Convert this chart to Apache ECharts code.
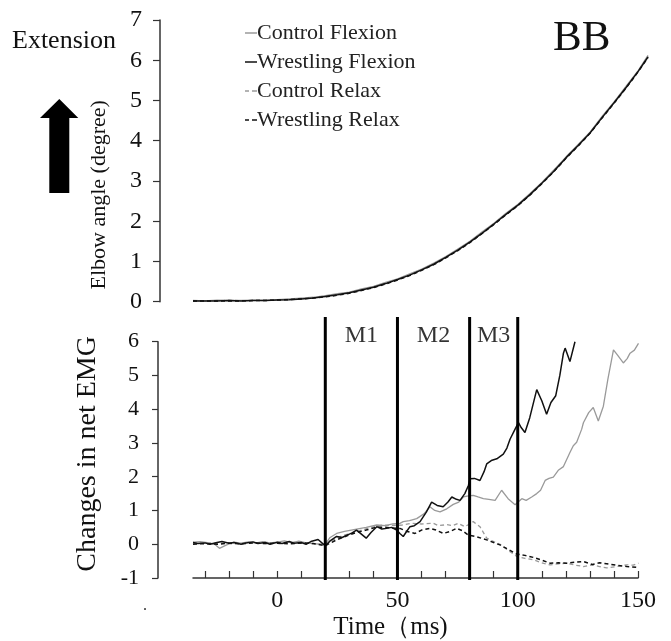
<!DOCTYPE html>
<html><head><meta charset="utf-8">
<script src="https://cdn.jsdelivr.net/npm/echarts@6/dist/echarts.min.js"></script>
<style>html,body{margin:0;padding:0;background:#fff}#c{width:671px;height:641px}</style>
</head><body><div id="c"></div>
<script>
// ---------- data ----------
const seriesNames = ['Control Flexion', 'Wrestling Flexion', 'Control Relax', 'Wrestling Relax'];
const phaseLines = [20, 50, 80, 100];
const phaseLabels = [['M1', 35], ['M2', 65], ['M3', 90]];
const xTickValues = [-30, -20, -10, 0, 10, 20, 30, 40, 50, 60, 70, 80, 90, 100, 110, 120, 130, 140, 150];
const xLabelValues = [0, 50, 100, 150];

// elbow angle (degree), top panel
const angleTime = [-35,-30,-25,-20,-15,-10,-5,0,5,10,15,20,25,30,35,40,45,50,55,60,65,70,75,80,85,90,95,100,105,110,115,120,125,130,135,140,145,150,154];
const angleWrestFlex = [0.02,0.02,0.02,0.03,0.02,0.03,0.03,0.04,0.05,0.07,0.09,0.13,0.17,0.22,0.29,0.36,0.45,0.55,0.66,0.79,0.93,1.10,1.28,1.48,1.70,1.93,2.17,2.40,2.66,2.95,3.25,3.58,3.88,4.20,4.58,4.95,5.33,5.73,6.08];
const angleCtrlFlex  = [0.03,0.02,0.04,0.03,0.03,0.04,0.03,0.05,0.07,0.09,0.11,0.15,0.20,0.24,0.32,0.38,0.48,0.57,0.69,0.81,0.96,1.12,1.31,1.50,1.73,1.95,2.20,2.42,2.69,2.97,3.28,3.60,3.91,4.22,4.61,4.97,5.36,5.75,6.12];
const angleCtrlRelax = [0.02,0.03,0.02,0.04,0.02,0.03,0.04,0.04,0.06,0.08,0.10,0.14,0.18,0.23,0.30,0.37,0.46,0.56,0.67,0.80,0.94,1.11,1.29,1.49,1.71,1.94,2.18,2.41,2.67,2.96,3.26,3.59,3.89,4.21,4.59,4.96,5.34,5.74,6.10];
const angleWrestRelax= [0.02,0.02,0.02,0.02,0.02,0.03,0.03,0.04,0.05,0.07,0.09,0.12,0.16,0.21,0.28,0.35,0.44,0.54,0.65,0.78,0.92,1.09,1.27,1.47,1.69,1.92,2.16,2.39,2.65,2.94,3.24,3.57,3.87,4.19,4.57,4.94,5.32,5.72,6.07];

// changes in net EMG, bottom panel: [time ms, value]
const emgWrestFlex = [[-35,0.05],[-33,0.02],[-30,0.04],[-28,0.0],[-25,0.05],[-23,0.08],[-20,0.03],[-18,0.05],[-15,0.0],[-13,0.04],[-10,0.07],[-8,0.02],[-5,0.05],[-3,0.0],[0,0.06],[2,0.02],[5,0.08],[7,0.03],[10,0.05],[12,0.0],[14,0.08],[17,0.14],[20,-0.05],[22,0.1],[24.7,0.23],[27,0.2],[29,0.27],[31,0.33],[33,0.42],[35,0.3],[37,0.18],[39,0.35],[41.4,0.52],[43.5,0.45],[45.5,0.47],[47.5,0.5],[49.7,0.42],[51,0.32],[52.4,0.23],[54,0.4],[55.2,0.52],[57,0.55],[59.4,0.67],[62,0.95],[64.2,1.25],[66.5,1.15],[69,1.11],[71,1.25],[72.6,1.40],[74.5,1.33],[76,1.30],[78,1.5],[79.5,1.74],[80.2,1.94],[82,1.95],[84.3,1.89],[86,2.15],[87.1,2.38],[89,2.48],[91.3,2.53],[94,2.67],[95.5,2.85],[96.8,3.11],[98.9,3.41],[100.3,3.60],[101.5,3.45],[103,3.31],[105,3.75],[107.9,4.58],[110,4.25],[112,3.85],[113.8,4.2],[115.8,4.4],[117.5,5.0],[119,5.66],[119.7,5.81],[121.7,5.41],[123.8,6.0]];
const emgCtrlFlex = [[-35,0.06],[-32,0.08],[-29,0.05],[-26,0.0],[-24,-0.12],[-21,-0.02],[-18,0.06],[-15,0.03],[-12,0.07],[-9,0.03],[-6,0.08],[-3,0.04],[0,0.06],[3,0.1],[6,0.05],[9,0.09],[12,0.04],[15,0.02],[18,0.0],[20,0.0],[22,0.2],[24.7,0.32],[28,0.38],[33,0.45],[37,0.5],[41.4,0.57],[45,0.55],[48,0.6],[51,0.62],[52.4,0.67],[55,0.7],[58,0.76],[61,0.9],[63.5,1.11],[65.5,1.0],[67.7,0.96],[70.5,1.05],[73.2,1.18],[75.5,1.25],[77.4,1.40],[79.5,1.43],[81.5,1.45],[83.5,1.4],[85.7,1.35],[88,1.33],[90.6,1.30],[93.3,1.60],[96,1.35],[98.9,1.17],[101.7,1.35],[103.5,1.3],[105.8,1.40],[107.9,1.50],[109.5,1.6],[111.4,1.89],[113,1.95],[114.8,1.99],[117,2.2],[119,2.3],[121.7,2.72],[123.1,2.92],[124.5,3.02],[126.6,3.41],[127.3,3.60],[129.5,3.9],[131.4,4.05],[133.5,3.65],[135.6,4.09],[137.5,4.9],[139.8,5.76],[141.5,5.6],[143.9,5.37],[145.5,5.5],[146.7,5.66],[148.5,5.75],[150.2,5.95]];
const emgCtrlRelax = [[-35,0.03],[-30,0.05],[-25,0.02],[-20,0.04],[-15,0.03],[-10,0.06],[-5,0.02],[0,0.05],[5,0.04],[10,0.03],[15,0.02],[20,-0.02],[23,0.12],[27,0.25],[33,0.37],[38,0.48],[44,0.57],[48,0.55],[52,0.57],[56,0.62],[60,0.6],[64.9,0.62],[67,0.55],[70.5,0.58],[73,0.55],[75.3,0.62],[78,0.52],[80,0.6],[81.5,0.67],[84.3,0.52],[87.1,0.18],[90,0.08],[92.6,0.0],[96,-0.18],[99.6,-0.36],[103,-0.42],[106.5,-0.46],[110,-0.55],[113.4,-0.61],[117,-0.58],[120.4,-0.56],[124,-0.62],[127.3,-0.66],[131.4,-0.61],[134,-0.66],[137,-0.70],[141,-0.66],[145.3,-0.61],[148,-0.62],[150.2,-0.56]];
const emgWrestRelax = [[-35,0.0],[-30,0.02],[-25,0.0],[-20,0.03],[-15,0.01],[-10,0.04],[-5,0.02],[0,0.03],[5,0.01],[10,0.04],[15,0.02],[20,-0.04],[24.7,0.13],[29,0.25],[33,0.35],[37,0.42],[41,0.5],[45,0.5],[49.7,0.47],[51,0.47],[54,0.38],[57.3,0.32],[60,0.42],[63.5,0.47],[66,0.42],[69.1,0.32],[72,0.38],[74.6,0.47],[77,0.4],[79.5,0.27],[83,0.22],[87.1,0.13],[90,0.05],[92.6,-0.02],[96,-0.15],[99.6,-0.29],[103,-0.33],[106.5,-0.39],[110,-0.47],[113.4,-0.56],[117,-0.55],[120.4,-0.56],[124,-0.53],[127.3,-0.51],[131,-0.6],[134,-0.55],[137,-0.58],[141,-0.62],[145.3,-0.66],[150.2,-0.69]];

// ---------- chart ----------
const FONT = 'Liberation Serif';
const GREY = '#9a9a9a', BLACK = '#111';
const styles = [
  {color: GREY, type: 'solid', width: 1.3},
  {color: BLACK, type: 'solid', width: 1.5},
  {color: GREY, type: [4, 3], width: 1.3},
  {color: BLACK, type: [4, 3], width: 1.5}
];
const SOLID_ICON = 'path://M0,0h12v1.5h-12z';
const DASH_ICON = 'path://M0,0h4v1.5h-4z M7,0h4v1.5h-4z M11,0h1v1.5h-1z';
const legendIcons = [SOLID_ICON, SOLID_ICON, DASH_ICON, DASH_ICON];
const angleData = [angleCtrlFlex, angleWrestFlex, angleCtrlRelax, angleWrestRelax];
const emgData = [emgCtrlFlex, emgWrestFlex, emgCtrlRelax, emgWrestRelax];

const series = [];
seriesNames.forEach((n, i) => {
  series.push({
    name: n, type: 'line', xAxisIndex: 0, yAxisIndex: 0, symbol: 'none', z: 3 + (i % 2),
    lineStyle: styles[i], itemStyle: {color: styles[i].color},
    data: angleTime.map((t, k) => [t, angleData[i][k]])
  });
});
seriesNames.forEach((n, i) => {
  series.push({
    name: n, type: 'line', xAxisIndex: 1, yAxisIndex: 1, symbol: 'none', z: 3 + (i % 2),
    lineStyle: styles[i], itemStyle: {color: styles[i].color},
    data: emgData[i]
  });
});
phaseLines.forEach(t => {
  series.push({
    type: 'line', xAxisIndex: 2, yAxisIndex: 2, symbol: 'none', silent: true, z: 6,
    lineStyle: {color: '#000', width: 3}, data: [[t, 0], [t, 1]]
  });
});
series.push({
  type: 'scatter', xAxisIndex: 2, yAxisIndex: 2, symbolSize: 0, silent: true,
  label: {show: true, position: 'inside', formatter: p => p.data[2], fontFamily: FONT, fontSize: 24, color: '#000'},
  data: phaseLabels.map(p => [p[1], 0.93, p[0]])
});

const option = {
  animation: false,
  backgroundColor: '#fff',
  textStyle: {fontFamily: FONT},
  legend: {
    data: seriesNames.map((n, i) => ({name: n, icon: legendIcons[i]})),
    orient: 'vertical', left: 240, top: 17,
    itemWidth: 12, itemHeight: 1.5, itemGap: 7, symbolKeepAspect: false,
    textStyle: {fontFamily: FONT, fontSize: 22, color: '#222', lineHeight: 22, padding: [0, 0, 0, -5]}
  },
  grid: [
    {left: 193, right: 23, top: 20, bottom: 339.3},
    {left: 193, right: 33, top: 341.7, bottom: 61},
    {left: 193, right: 33, top: 317, bottom: 61}
  ],
  xAxis: [
    {type: 'value', gridIndex: 0, min: -35, max: 154, show: false},
    {type: 'value', gridIndex: 1, min: -35, max: 150,
     name: 'Time（ms)', nameLocation: 'middle', nameGap: 37,
     nameTextStyle: {fontFamily: FONT, fontSize: 25, color: '#111', padding: [0, 50, 0, 0]},
     axisLine: {onZero: false, lineStyle: {color: '#333', width: 1.5}},
     axisTick: {inside: true, length: 7, customValues: xTickValues, lineStyle: {color: '#333', width: 1.2}},
     axisLabel: {customValues: xLabelValues, margin: 11, fontFamily: FONT, fontSize: 24, color: '#111'},
     splitLine: {show: false}},
    {type: 'value', gridIndex: 2, min: -35, max: 150, show: false}
  ],
  yAxis: [
    {type: 'value', gridIndex: 0, min: 0, max: 7, interval: 1, offset: 33,
     name: 'Elbow angle (degree)', nameLocation: 'middle', nameGap: 50,
     nameTextStyle: {fontFamily: FONT, fontSize: 22, color: '#111', padding: [0, 68, 0, 0]},
     axisLine: {show: true, onZero: false, lineStyle: {color: '#333', width: 1.5}},
     axisTick: {show: true, length: 7, lineStyle: {color: '#333', width: 1.2}},
     axisLabel: {margin: 18, fontFamily: FONT, fontSize: 24, color: '#111'},
     splitLine: {show: false}},
    {type: 'value', gridIndex: 1, min: -1, max: 6, interval: 1, offset: 35,
     name: 'Changes in net EMG', nameLocation: 'middle', nameGap: 56,
     nameTextStyle: {fontFamily: FONT, fontSize: 28, color: '#111', padding: [0, 0, 0, 12]},
     axisLine: {show: true, onZero: false, lineStyle: {color: '#333', width: 1.5}},
     axisTick: {show: true, length: 6, lineStyle: {color: '#333', width: 1.2}},
     axisLabel: {margin: 19, fontFamily: FONT, fontSize: 22, color: '#111'},
     splitLine: {show: false}},
    {type: 'value', gridIndex: 2, min: 0, max: 1, show: false}
  ],
  graphic: [
    {type: 'text', left: 12, top: 28, style: {text: 'Extension', font: '26px "Liberation Serif"', fill: '#111'}},
    {type: 'text', left: 553, top: 17, style: {text: 'BB', font: '43px "Liberation Serif"', fill: '#111'}},
    {type: 'polygon', shape: {points: [[40, 118], [59.3, 99], [78.3, 118], [69.3, 118], [69.3, 193], [49.3, 193], [49.3, 118]]}, style: {fill: '#000'}},
    {type: 'text', left: 143, top: 598, style: {text: '.', font: '16px "Liberation Serif"', fill: '#333'}}
  ],
  series: series
};
echarts.init(document.getElementById('c'), null, {renderer: 'canvas'}).setOption(option);
</script></body></html>
